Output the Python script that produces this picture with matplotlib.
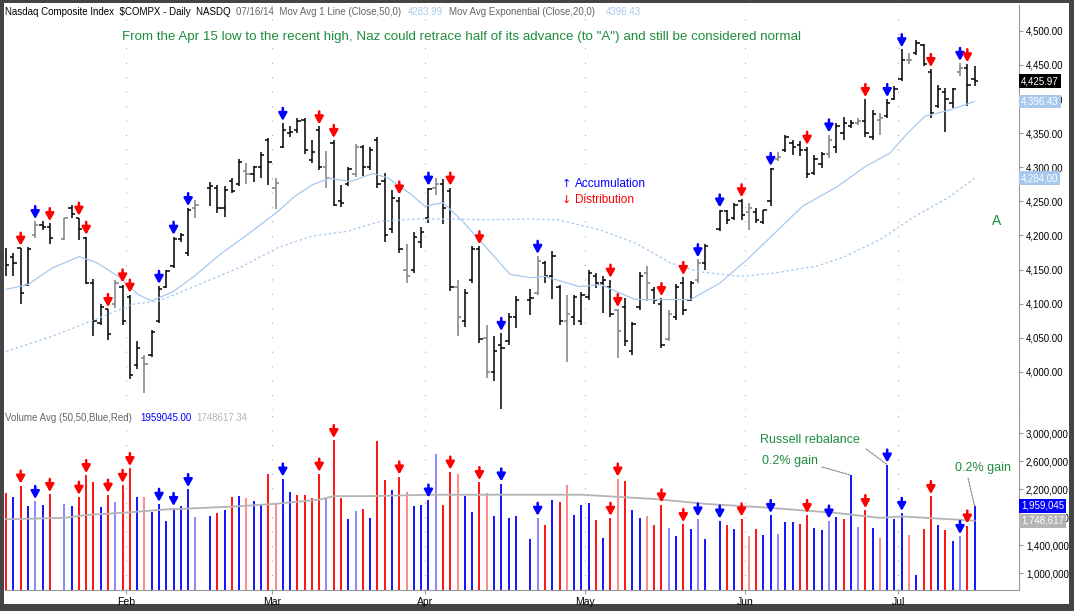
import numpy as np
import matplotlib
matplotlib.use('Agg')
import matplotlib.pyplot as plt
from matplotlib.patches import Rectangle

W, H = 1074, 611

# daily bars, one slot per trading day (None = holiday slot)
highs = [4182, 4174, 4182, 4183, 4221, 4221, 4218, None, 4226, 4245,
         4226, 4198, 4136, 4100, 4092, 4134, 4128, 4113, 4045, 4025,
         4062, 4126, 4150, 4198, 4204, 4240, 4252, None, 4278, 4274,
         4272, 4284, 4312, 4307, 4302, 4323, 4343, 4284, 4365, 4360,
         4372, 4372, 4340, 4360, 4324, 4340, 4274, 4301, 4334, 4333,
         4330, 4345, 4292, 4267, 4257, 4187, 4205, 4212, 4270, 4284,
         4283, 4270, 4134, 4122, 4184, 4184, 4068, 4052, 4057, 4086,
         4111, None, 4122, 4170, 4162, 4177, 4128, 4113, 4113, 4117,
         4150, 4145, 4140, 4135, 4092, 4108, 4073, 4146, 4155, 4125,
         4108, 4091, 4129, 4139, 4133, 4165, 4187, None, 4238, 4238,
         4248, 4253, 4248, 4240, 4238, 4299, 4323, 4348, 4340, 4338,
         4330, 4318, 4323, 4348, 4365, 4374, 4370, 4372, 4400, 4384,
         4379, 4400, 4419, 4473, 4467, 4487, 4481, 4444, 4421, 4417,
         4417, 4453, 4451, 4449]
lows = [4141, 4141, 4099, 4126, 4196, 4208, 4187, None, 4194, 4226,
        4194, 4129, 4052, 4068, 4046, 4094, 4069, 3990, 4004, 3969,
        4022, 4071, 4123, 4152, 4190, 4170, 4226, None, 4243, 4233,
        4227, 4263, 4272, 4276, 4278, 4284, 4274, 4239, 4328, 4345,
        4350, 4320, 4307, 4296, 4270, 4243, 4242, 4273, 4286, 4287,
        4296, 4270, 4190, 4204, 4174, 4131, 4145, 4182, 4219, 4260,
        4217, 4119, 4053, 4066, 4130, 4042, 3991, 3986, 3946, 4040,
        4064, None, 4083, 4112, 4131, 4107, 4069, 4014, 4069, 4069,
        4106, 4123, 4086, 4081, 4021, 4038, 4025, 4091, 4104, 4099,
        4035, 4045, 4076, 4083, 4104, 4131, 4150, None, 4206, 4217,
        4223, 4223, 4208, 4218, 4217, 4243, 4309, 4323, 4318, 4316,
        4284, 4289, 4299, 4313, 4321, 4340, 4357, 4362, 4345, 4340,
        4348, 4372, 4399, 4426, 4452, 4465, 4449, 4372, 4387, 4352,
        4387, 4434, 4390, 4419]
opens = [4170, 4168, 4182, 4128, 4200, 4215, 4213, None, 4195, 4240,
         4225, 4196, 4130, 4072, 4092, 4100, 4125, 4110, 4010, 4020,
         4025, 4075, 4125, 4155, 4195, 4175, 4240, None, 4270, 4270,
         4240, 4280, 4275, 4295, 4290, 4300, 4340, 4270, 4330, 4350,
         4355, 4370, 4310, 4355, 4300, 4335, 4250, 4275, 4290, 4330,
         4300, 4340, 4280, 4210, 4250, 4150, 4150, 4190, 4225, 4270,
         4275, 4265, 4125, 4075, 4135, 4180, 4050, 4000, 4040, 4045,
         4080, None, 4105, 4115, 4160, 4140, 4125, 4075, 4080, 4075,
         4110, 4140, 4130, 4125, 4090, 4095, 4030, 4095, 4145, 4120,
         4100, 4048, 4080, 4130, 4105, 4135, 4160, None, 4210, 4236,
         4225, 4250, 4235, 4235, 4220, 4250, 4312, 4325, 4335, 4332,
         4325, 4292, 4305, 4320, 4330, 4350, 4360, 4365, 4368, 4345,
         4370, 4375, 4400, 4430, 4458, 4468, 4480, 4440, 4390, 4410,
         4395, 4440, 4445, 4430]
closes = [4157, 4160, 4115, 4180, 4215, 4213, 4196, None, 4225, 4232,
          4210, 4130, 4075, 4095, 4055, 4130, 4075, 3995, 4035, 4012,
          4058, 4122, 4148, 4195, 4201, 4238, 4244, None, 4272, 4240,
          4267, 4265, 4308, 4290, 4300, 4318, 4308, 4277, 4355, 4352,
          4368, 4325, 4322, 4300, 4285, 4245, 4248, 4298, 4330, 4300,
          4325, 4275, 4200, 4255, 4180, 4140, 4198, 4205, 4268, 4275,
          4240, 4125, 4080, 4115, 4180, 4048, 4000, 4030, 4035, 4080,
          4105, None, 4108, 4162, 4140, 4170, 4075, 4085, 4110, 4112,
          4145, 4130, 4135, 4085, 4060, 4045, 4070, 4140, 4130, 4105,
          4040, 4085, 4125, 4090, 4130, 4160, 4185, None, 4236, 4222,
          4245, 4230, 4240, 4222, 4237, 4298, 4315, 4345, 4330, 4325,
          4290, 4312, 4320, 4340, 4360, 4365, 4365, 4368, 4350, 4378,
          4372, 4395, 4415, 4458, 4458, 4483, 4451, 4380, 4415, 4400,
          4415, 4445, 4420, 4425.97]

# volume in millions; colour codes: b up, r down, lb/pk light (grey price bar)
volume = [2.15, 2.09, 2.25, 1.96, 2.03, 1.98, 2.13, None, 1.99, 1.96,
          2.09, 2.40, 2.30, 1.95, 2.12, 2.02, 2.26, 2.50, 2.09, 2.09,
          1.88, 1.99, 1.75, 1.93, 1.96, 2.20, 1.80, None, 1.82, 1.86,
          1.90, 2.09, 2.10, 2.08, 2.03, 1.99, 2.42, 2.00, 2.35, 2.16,
          2.12, 2.12, 2.08, 2.42, 2.06, 2.90, 2.07, 1.77, 1.89, 1.92,
          1.79, 2.89, 2.33, 2.19, 2.38, 2.16, 1.96, 1.98, 2.05, 2.70,
          1.98, 2.45, 2.41, 2.10, 1.88, 2.30, 2.15, 1.82, 2.28, 1.79,
          1.82, None, 1.49, 1.79, 1.69, 2.05, 2.02, 2.26, 1.83, 1.98,
          2.00, 1.76, 1.50, 1.79, 2.35, 2.32, 1.90, 1.79, 1.82, 1.69,
          1.98, 1.65, 1.53, 1.70, 1.63, 1.78, 1.49, None, 1.75, 1.69,
          1.63, 1.78, 1.53, 1.63, 1.55, 1.83, 1.56, 1.73, 1.73, 1.70,
          1.83, 1.65, 1.62, 1.75, 1.80, 1.78, 2.40, 1.66, 1.90, 1.65,
          1.50, 2.55, 1.78, 1.86, 1.55, 0.97, 1.63, 2.10, 1.69, 1.62,
          1.46, 1.53, 1.68, 1.96]
vol_col = ['r', 'b', 'r', 'b', 'lb', 'b', 'r', '', 'lb', 'b',
           'r', 'r', 'r', 'b', 'r', 'lb', 'r', 'r', 'b', 'pk',
           'b', 'b', 'b', 'b', 'b', 'b', 'lb', '', 'b', 'r',
           'b', 'r', 'b', 'pk', 'b', 'b', 'r', 'pk', 'b', 'b',
           'r', 'r', 'r', 'r', 'lb', 'r', 'r', 'b', 'lb', 'r',
           'b', 'r', 'r', 'b', 'r', 'pk', 'b', 'b', 'b', 'lb',
           'r', 'r', 'pk', 'b', 'b', 'r', 'pk', 'b', 'b', 'b',
           'b', '', 'b', 'lb', 'r', 'b', 'r', 'pk', 'b', 'b',
           'b', 'r', 'b', 'r', 'pk', 'r', 'b', 'b', 'pk', 'r',
           'r', 'lb', 'b', 'r', 'b', 'lb', 'b', '', 'b', 'r',
           'b', 'r', 'pk', 'r', 'b', 'b', 'lb', 'b', 'b', 'r',
           'r', 'b', 'b', 'lb', 'b', 'r', 'b', 'lb', 'r', 'b',
           'pk', 'b', 'b', 'b', 'pk', 'b', 'r', 'r', 'b', 'r',
           'b', 'lb', 'r', 'b']

accum_days = [4, 21, 23, 25, 38, 58, 68, 73, 95, 98, 105, 113, 121, 123, 131]
distr_days = [2, 6, 10, 11, 14, 16, 17, 43, 45, 54, 61, 65, 83, 84, 90, 93,
              101, 110, 118, 127, 132]

# moving averages (slot, value)
ema20_x = [0, 3, 6.3, 10, 12.5, 15.4, 18.2, 20, 23, 25.8, 29.6, 33.5, 37.3, 39.6,
           42, 44.4, 47.3, 50.4, 52.5, 55.4, 57.5, 60, 62.5, 65.8, 69.2, 72, 74,
           78.7, 81.6, 86.4, 91.2, 94, 98, 101.8, 105.6, 109.4, 114.2, 118,
           121.4, 123.8, 126.2, 129.6, 133]
ema20_y = [4121, 4128, 4152, 4169, 4160, 4140, 4113, 4104, 4118, 4140, 4174, 4204,
           4235, 4257, 4274, 4284, 4279, 4291, 4284, 4262, 4243, 4248, 4223, 4184,
           4143, 4138, 4140, 4125, 4128, 4106, 4106, 4106, 4130, 4165, 4204, 4243,
           4272, 4301, 4321, 4350, 4375, 4384, 4396.43]
sma50_x = [0, 6.3, 13.5, 17.3, 21, 25.8, 32.5, 37.3, 42, 46.8, 51.5, 56.3, 61,
           65.8, 72, 75.8, 81.6, 86.4, 91.2, 95, 100.8, 105.6, 111.3, 115.2, 120,
           124.8, 129.6, 133]
sma50_y = [4030, 4052, 4082, 4099, 4104, 4125, 4155, 4182, 4199, 4206, 4221, 4224,
           4224, 4223, 4224, 4223, 4208, 4189, 4160, 4147, 4140, 4145, 4155, 4169,
           4194, 4228, 4257, 4284]
vavg_x = [0, 8, 11, 17, 22, 31, 37, 43, 45, 50, 58, 79, 84, 89, 93, 96, 104, 114,
          120, 123, 133]
vavg_y = [1.77, 1.79, 1.83, 1.87, 1.91, 1.95, 1.99, 2.05, 2.10, 2.10, 2.12, 2.12,
          2.09, 2.06, 2.02, 1.99, 1.94, 1.86, 1.79, 1.81, 1.75]

month_pos = [17, 37, 58, 80, 102, 123]
month_lbl = ['Feb', 'Mar', 'Apr', 'May', 'Jun', 'Jul']
price_ticks = [4000, 4050, 4100, 4150, 4200, 4250, 4300, 4350, 4400, 4450, 4500]
vol_ticks = [1.0, 1.4, 1.8, 2.2, 2.6, 3.0]

plt.rcParams['font.family'] = ['Liberation Sans', 'DejaVu Sans']
colmap = {'b': '#0000ff', 'r': '#ff0000', 'lb': '#7f7fff', 'pk': '#ff8080', '': 'none'}
MA_COL = '#a8c8ee'
GREEN = '#1e8c3c'


def px(x, y):
    return x / W, 1 - y / H


fig = plt.figure(figsize=(W / 100, H / 100), dpi=100, facecolor='#444444')
fig.patches.append(Rectangle(px(4, 604), 1065 / W, 601 / H, transform=fig.transFigure,
                             facecolor='white', edgecolor='none', zorder=-5))

x0, x1 = 5, 1019
ax = fig.add_axes([x0 / W, (H - 410) / H, (x1 - x0) / W, 405 / H])
axv = fig.add_axes([x0 / W, (H - 590) / H, (x1 - x0) / W, 180 / H], sharex=ax)
for a in (ax, axv):
    a.set_facecolor('none')
    for s in ('top', 'left'):
        a.spines[s].set_visible(False)
    a.spines['right'].set_color('#999999')
    a.spines['bottom'].set_color('#999999')
    a.yaxis.tick_right()
    a.tick_params(axis='y', labelsize=7, length=3, color='#999999', pad=2)
    for m in month_pos:
        a.axvline(m - 0.5, color='#aaaaaa', lw=0.8, ls=(0, (1, 12)), zorder=0)
ax.spines['bottom'].set_visible(False)

slots = np.arange(len(highs))
hi = np.array(highs, dtype=float)
lo = np.array(lows, dtype=float)
op = np.array(opens, dtype=float)
cl = np.array(closes, dtype=float)
vol = np.array(volume, dtype=float)

price_col = ['#808080' if c in ('lb', 'pk') else 'black' for c in vol_col]
ax.vlines(slots, lo, hi, colors=price_col, lw=1.1)
ax.hlines(op, slots - 0.45, slots, colors=price_col, lw=1.1)
ax.hlines(cl, slots, slots + 0.45, colors=price_col, lw=1.1)
ax.plot(ema20_x, ema20_y, color=MA_COL, lw=0.9)
ax.plot(sma50_x, sma50_y, color=MA_COL, lw=0.9, ls=(0, (2, 2)))

ax.set_xlim(-0.15, 139.1)
ax.set_ylim(3944, 4538)
ax.set_yticks(price_ticks)
ax.set_yticklabels([f'{v:,.2f}' for v in price_ticks])
ax.tick_params(axis='x', bottom=False, labelbottom=False)

axv.vlines(slots, 0.76, vol, colors=[colmap[c] for c in vol_col], lw=1.3)
axv.plot(vavg_x, vavg_y, color='#b4b4b4', lw=1.3)
axv.set_ylim(0.76, 3.33)
axv.set_yticks(vol_ticks)
axv.set_yticklabels([f'{int(v * 1e6):,}' for v in vol_ticks])
axv.set_xticks([m - 0.5 for m in month_pos])
axv.set_xticklabels(month_lbl, fontsize=7.5)
axv.tick_params(axis='x', length=3, color='#999999', pad=2)


def down_arrow(a, s, top, color):
    a.annotate('', xy=(s, top), xytext=(0, 15), textcoords='offset pixels',
               xycoords='data',
               arrowprops=dict(arrowstyle='-|>,head_width=0.25,head_length=0.45',
                               color=color, lw=1.8, shrinkA=0, shrinkB=1.5))


for s in accum_days:
    down_arrow(ax, s, hi[s], '#0000ff')
    down_arrow(axv, s, vol[s], '#0000ff')
for s in distr_days:
    down_arrow(ax, s, hi[s], '#ff0000')
    down_arrow(axv, s, vol[s], '#ff0000')


# right-edge value tags
def tag(a, y, text, fc, tc='white'):
    a.text(1.002, y, text, transform=a.get_yaxis_transform(), fontsize=7, color=tc,
           va='center', ha='left',
           bbox=dict(boxstyle='square,pad=0.2', fc=fc, ec='none'))


tag(ax, cl[-1], f'{cl[-1]:,.2f}', 'black')
tag(ax, ema20_y[-1], f'{ema20_y[-1]:,.2f}', MA_COL)
tag(ax, sma50_y[-1], f'{sma50_y[-1]:,.2f}', MA_COL)
tag(axv, vol[-1], '1,959,045', '#0000ff')
tag(axv, vavg_y[-1], '1,748,617', '#b4b4b4')

# header lines
hdr = [(5, 'Nasdaq Composite Index  $COMPX - Daily  NASDQ', 'black'),
       (236, '07/16/14  Mov Avg 1 Line (Close,50,0)', '#666666'),
       (408, '4283.99', MA_COL),
       (449, 'Mov Avg Exponential (Close,20,0)', '#666666'),
       (606, '4396.43', MA_COL)]
for x, t, c in hdr:
    fig.text(*px(x, 12), t, fontsize=7, color=c, va='center')
vhdr = [(5, 'Volume Avg (50,50,Blue,Red)', '#666666'),
        (140, '1959045.00', '#0000ff'),
        (196, '1748617.34', '#b4b4b4')]
for x, t, c in vhdr:
    fig.text(*px(x, 418), t, fontsize=7, color=c, va='center')

fig.text(*px(462, 37), 'From the Apr 15 low to the recent high, Naz could retrace half of '
         'its advance (to "A") and still be considered normal',
         fontsize=9.6, color=GREEN, ha='center', va='center')
fig.text(*px(997, 221), 'A', fontsize=10, color=GREEN, ha='center', va='center')
fig.text(*px(566, 184), '\u2191', fontsize=8, color='#0000ff', ha='center', va='center',
         family=['DejaVu Sans'])
fig.text(*px(575, 184), 'Accumulation', fontsize=8.5, color='#0000ff', va='center')
fig.text(*px(566, 200), '\u2193', fontsize=8, color='#ff0000', ha='center', va='center',
         family=['DejaVu Sans'])
fig.text(*px(575, 200), 'Distribution', fontsize=8.5, color='#ff0000', va='center')

notes = [('Russell rebalance', (760, 440), (866, 449), 121),
         ('0.2% gain', (762, 461), (822, 467), 116),
         ('0.2% gain', (955, 468), (968, 478), 133)]
for t, tpos, lstart, s in notes:
    fig.text(*px(*tpos), t, fontsize=9, color=GREEN, va='center')
    axv.annotate('', xy=(s, vol[s]), xytext=px(*lstart), textcoords='figure fraction',
                 arrowprops=dict(arrowstyle='-', color='#888888', lw=0.8,
                                 ls=(0, (2, 1)), shrinkA=0, shrinkB=0))

fig.savefig('out.png', dpi=100, facecolor=fig.get_facecolor())
